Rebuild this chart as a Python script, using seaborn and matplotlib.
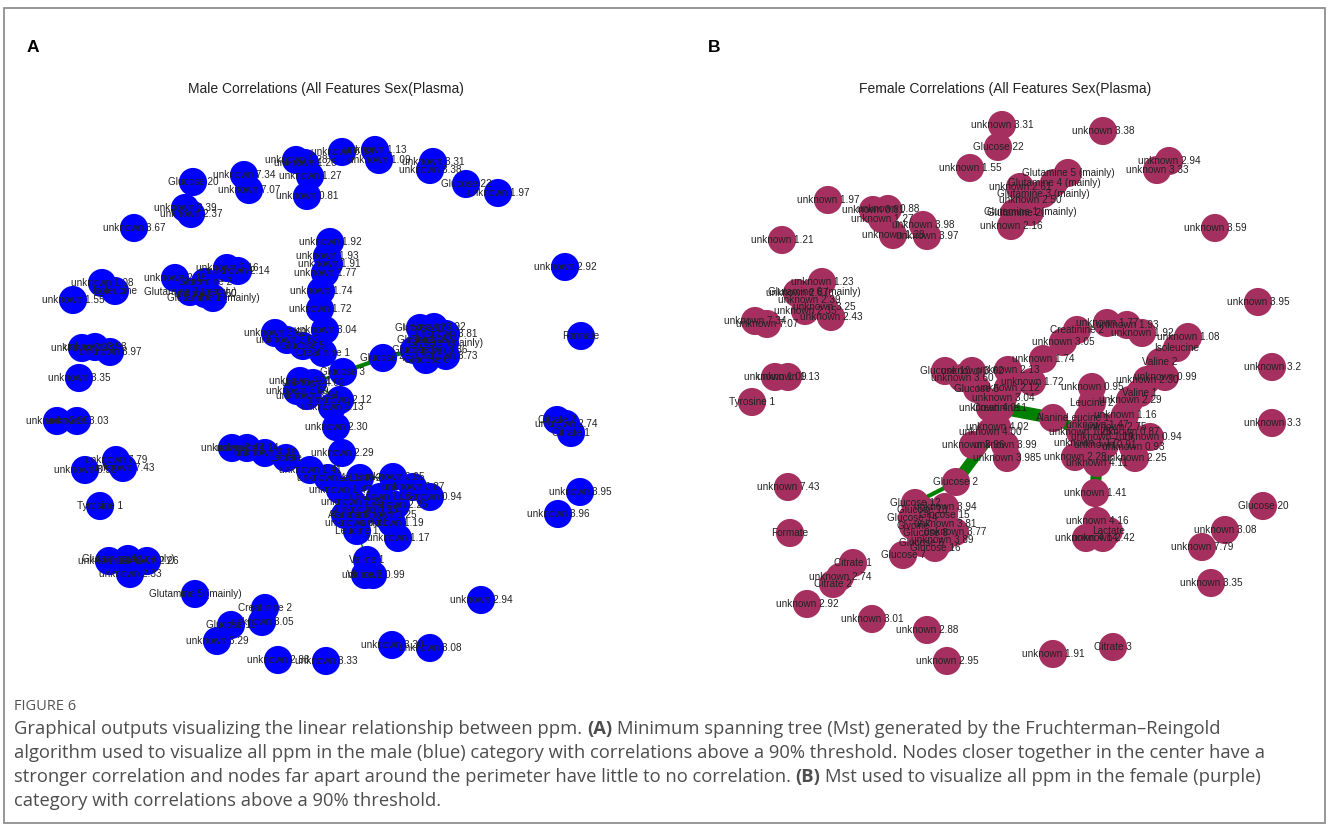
import matplotlib
matplotlib.use("Agg")
import matplotlib.pyplot as plt
import seaborn as sns
import pandas as pd
from matplotlib.collections import LineCollection
from matplotlib.patches import Rectangle

sns.set_theme(style="white")
plt.rcParams["font.family"] = ["Liberation Sans", "DejaVu Sans"]

W, H = 1328, 831

# ---------------- male network (layout coordinates) ----------------
male_labels = [
    # outer arc, top
    "Glucose 20", "unknown 7.34", "unknown 7.07", "unknown 2.39", "unknown 2.37", "unknown 3.67",
    "unknown 1.28", "unknown 1.26", "unknown 1.27", "unknown 0.81", "unknown 0.88", "unknown 1.13",
    "unknown 1.09", "unknown 3.31", "unknown 3.38", "Glucose 22", "unknown 1.97",
    # outer arc, right
    "unknown 2.92", "Formate", "Citrate 2", "unknown 2.74", "Citrate 1", "unknown 3.95",
    "unknown 3.96", "unknown 2.94", "unknown 3.30", "unknown 3.08",
    # outer arc, bottom and left
    "unknown 2.88", "unknown 3.33", "unknown 3.29", "Glucose 11", "Creatinine 2", "unknown 3.05",
    "Glutamine 5 (mainly)", "unknown 2.46", "Glutamine 4 (mainly)", "unknown 2.26", "unknown 2.33",
    "Tyrosine 1", "unknown 3.55", "unknown 7.79", "unknown 7.43", "unknown 2.99", "unknown 3.03",
    "unknown 3.35", "unknown 2.98", "unknown 3.98", "unknown 3.97", "unknown 1.55", "unknown 1.08",
    "Isoleucine", "unknown 2.18", "Glutamine 2", "Glutamine 3 (mainly)", "unknown 2.50",
    "Glutamine 1 (mainly)", "unknown 2.16", "unknown 2.14",
    # central chain
    "unknown 1.92", "unknown 1.93", "unknown 1.91", "unknown 1.77", "unknown 1.74", "unknown 1.72",
    "unknown 3.04", "unknown 3.60", "unknown 3.62", "Glucose 5", "Creatinine 1", "Glucose 3",
    "Glucose 4",
    # glucose cluster
    "Glucose 12", "unknown 3.92", "unknown 3.81", "Glucose 15", "Glycerol (mainly)", "Glucose 8",
    "unknown 3.86", "Glucose 6", "unknown 3.73", "Glucose 9",
    # lower branch
    "unknown 4.01", "unknown 4.02", "unknown 3.89", "unknown 3.94", "unknown 2.12", "unknown 2.13",
    "unknown 2.30", "unknown 2.29", "unknown 2.42", "unknown 4.14", "unknown 4.16", "Lactate",
    "unknown 1.41", "unknown 4.11", "Leucine 2", "unknown 0.95", "unknown 0.87", "unknown 0.94",
    "unknown 1.47", "unknown 2.28", "unknown 1.16", "unknown 2.25", "unknown 0.93", "Alanine",
    "unknown 1.25", "unknown 1.19", "unknown 0.91", "Leucine 1", "unknown 1.17", "Valine 1",
    "Valine 2", "unknown 0.99",
]
male_x = [
    193, 244, 249, 185, 191, 134,
    296, 305, 310, 307, 342, 375,
    379, 433, 430, 466, 498,
    565, 581, 557, 566, 571, 580,
    558, 481, 392, 430,
    278, 326, 217, 231, 265, 262,
    195, 109, 128, 147, 130,
    100, 85, 116, 123, 57, 77,
    79, 82, 95, 110, 73, 102,
    115, 175, 205, 190, 205,
    213, 227, 238,
    330, 327, 329, 325, 321, 320,
    325, 275, 287, 303, 323, 343,
    383,
    420, 434, 446, 422, 445, 414,
    436, 426, 446, 432,
    300, 313, 297, 307, 340, 332,
    336, 342, 232, 247, 265, 286,
    310, 328, 360, 393, 413, 430,
    340, 352, 380, 396, 366, 345,
    385, 392, 356, 357, 398, 367,
    365, 373,
]
male_y = [
    182, 175, 190, 208, 214, 228,
    160, 163, 176, 196, 152, 150,
    160, 162, 170, 184, 193,
    267, 336, 420, 424, 433, 492,
    514, 600, 645, 648,
    660, 661, 641, 625, 608, 622,
    594, 561, 559, 561, 574,
    506, 470, 460, 468, 421, 421,
    378, 348, 347, 352, 300, 283,
    291, 278, 282, 292, 294,
    298, 268, 271,
    242, 256, 264, 273, 291, 309,
    330, 333, 340, 346, 353, 372,
    358,
    328, 327, 334, 340, 343, 350,
    350, 360, 356, 340,
    381, 383, 391, 396, 400, 407,
    427, 453, 448, 448, 453, 458,
    470, 478, 478, 477, 487, 497,
    490, 502, 497, 505, 510, 515,
    515, 523, 523, 531, 538, 560,
    575, 575,
]
male_edges = [
    ("unknown 1.92", "unknown 1.93", 1.0), ("unknown 1.93", "unknown 1.91", 1.0),
    ("unknown 1.91", "unknown 1.77", 1.0), ("unknown 1.77", "unknown 1.74", 1.0),
    ("unknown 1.74", "unknown 1.72", 1.0), ("unknown 1.72", "unknown 3.04", 1.0),
    ("unknown 3.04", "Creatinine 1", 1.0), ("unknown 3.60", "unknown 3.62", 1.0),
    ("unknown 3.62", "Glucose 5", 1.0), ("Glucose 5", "Creatinine 1", 1.0),
    ("Creatinine 1", "Glucose 3", 2.0), ("Glucose 3", "Glucose 4", 3.0),
    ("Glucose 4", "Glucose 8", 3.0), ("Glucose 3", "unknown 4.02", 2.0),
    ("unknown 4.02", "unknown 4.01", 1.0), ("unknown 4.01", "unknown 3.89", 1.0),
    ("unknown 4.02", "unknown 2.12", 1.0), ("unknown 2.12", "unknown 2.13", 1.0),
    ("unknown 2.13", "unknown 2.30", 1.0), ("unknown 2.30", "unknown 2.29", 1.0),
    ("unknown 2.29", "unknown 4.11", 1.0), ("unknown 4.11", "unknown 1.41", 1.0),
    ("unknown 1.41", "Lactate", 1.0), ("Lactate", "unknown 4.16", 1.0),
    ("unknown 4.16", "unknown 4.14", 1.0), ("unknown 4.14", "unknown 2.42", 1.0),
    ("unknown 4.11", "Leucine 2", 1.0), ("Leucine 2", "unknown 0.95", 1.0),
    ("unknown 0.95", "unknown 0.87", 1.0), ("unknown 0.87", "unknown 0.94", 1.0),
    ("Leucine 1", "Valine 1", 1.0), ("Valine 1", "Valine 2", 1.0),
]

# ---------------- female network (layout coordinates) ----------------
female_labels = [
    # top
    "unknown 3.31", "Glucose 22", "unknown 1.55", "unknown 3.38", "unknown 2.94", "unknown 3.33",
    "unknown 3.59", "Glutamine 5 (mainly)", "Glutamine 4 (mainly)", "unknown 2.61",
    "Glutamine 3 (mainly)", "unknown 2.50", "Glutamine 1 (mainly)", "Glutamine 2", "unknown 2.16",
    "unknown 1.97", "unknown 1.21",
    # upper left groups
    "unknown 0.81", "unknown 0.88", "unknown 1.27", "unknown 1.28", "unknown 3.98", "unknown 3.97",
    "unknown 1.23", "unknown 2.87", "Glutamine 6 (mainly)", "unknown 2.39", "unknown 3.25",
    "unknown 2.35", "unknown 2.43", "unknown 7.34", "unknown 7.07",
    # lower left
    "unknown 1.09", "unknown 1.13", "Tyrosine 1", "unknown 7.43", "Formate", "Citrate 1",
    "unknown 2.74", "Citrate 2", "unknown 2.92", "unknown 3.01", "unknown 2.88", "unknown 2.95",
    "Glucose 7",
    # glucose cluster
    "Glucose 12", "unknown 3.94", "Glucose 13", "Glucose 15", "Glucose 14", "Glycine",
    "unknown 3.81", "unknown 3.77", "Glucose 8", "unknown 3.89", "Glucose 6", "Glucose 16",
    "Glucose 2",
    # central cluster
    "Glucose 10", "unknown 3.60", "unknown 3.62", "unknown 2.13", "Glucose 5", "unknown 2.12",
    "unknown 1.72", "unknown 3.04", "Creatinine 1", "unknown 4.01", "unknown 4.02", "unknown 4.00",
    "unknown 3.96", "unknown 3.99", "unknown 3.985", "unknown 1.74",
    # right chain
    "unknown 3.05", "Creatinine 2", "unknown 1.77", "unknown 1.93", "unknown 1.92", "unknown 1.08",
    "Isoleucine", "Valine 2", "unknown 0.99", "unknown 2.30", "Valine 1", "unknown 2.29",
    "unknown 0.95", "Leucine 2", "Alanine",
    # right cluster
    "Leucine 1", "unknown 1.16", "unknown 1.47", "unknown 2.75", "unknown 1.25", "unknown 1.19",
    "unknown 0.87", "unknown 0.94", "unknown 1.17", "unknown 0.91", "unknown 0.93", "unknown 2.28",
    "unknown 4.11", "unknown 2.25",
    # lower chain
    "unknown 1.41", "unknown 4.16", "Lactate", "unknown 4.14", "unknown 2.42",
    # right column
    "unknown 3.95", "unknown 3.2", "unknown 3.3", "Glucose 20", "unknown 3.08", "unknown 7.79",
    "unknown 3.35", "unknown 1.91", "Citrate 3",
]
female_x = [
    1002, 998, 970, 1103, 1169, 1157,
    1215, 1068, 1054, 1020,
    1043, 1030, 1030, 1014, 1011,
    828, 782,
    873, 888, 882, 893, 923, 927,
    822, 797, 814, 809, 824,
    805, 831, 755, 767,
    775, 788, 752, 788, 790, 853,
    840, 833, 807, 872, 927, 947,
    903,
    915, 945, 922, 944, 912, 913,
    945, 955, 925, 942, 922, 935,
    956,
    945, 962, 972, 1008, 977, 1008,
    1032, 1003, 1000, 990, 997, 990,
    973, 1005, 1007, 1043,
    1063, 1077, 1107, 1127, 1142, 1188,
    1177, 1160, 1165, 1147, 1140, 1130,
    1092, 1092, 1053,
    1088, 1125, 1097, 1115, 1080, 1102,
    1128, 1150, 1085, 1105, 1133, 1075,
    1097, 1135,
    1095, 1097, 1109, 1086, 1103,
    1258, 1272, 1272, 1263, 1225, 1202,
    1211, 1053, 1113,
]
female_y = [
    125, 147, 168, 131, 161, 170,
    228, 173, 183, 187,
    194, 200, 212, 213, 226,
    200, 240,
    210, 209, 219, 235, 225, 236,
    282, 293, 292, 300, 307,
    311, 317, 321, 324,
    377, 377, 402, 487, 533, 563,
    577, 584, 604, 619, 630, 661,
    555,
    503, 507, 510, 515, 518, 526,
    524, 532, 533, 540, 543, 548,
    482,
    371, 378, 371, 370, 389, 388,
    382, 398, 408, 408, 427, 432,
    445, 445, 458, 359,
    342, 330, 323, 325, 333, 337,
    348, 362, 377, 380, 393, 400,
    387, 403, 418,
    418, 415, 425, 427, 432, 437,
    432, 437, 443, 445, 447, 457,
    463, 458,
    493, 521, 531, 538, 538,
    302, 367, 423, 506, 530, 547,
    583, 654, 647,
]
female_edges = [
    ("Glucose 2", "unknown 4.02", 8.0), ("Glucose 2", "Glucose 12", 3.0),
    ("Creatinine 1", "Alanine", 9.0), ("Alanine", "unknown 1.25", 7.0),
    ("unknown 4.11", "unknown 1.41", 8.0), ("unknown 1.41", "unknown 4.16", 3.0),
    ("unknown 1.74", "unknown 1.72", 3.0), ("unknown 1.74", "unknown 3.05", 1.0),
    ("unknown 3.05", "Creatinine 2", 1.0), ("Creatinine 2", "unknown 1.77", 1.0),
    ("unknown 1.77", "unknown 1.93", 1.0), ("unknown 1.93", "unknown 1.92", 1.0),
    ("unknown 1.08", "Isoleucine", 1.0), ("Isoleucine", "Valine 2", 1.0),
    ("Valine 2", "unknown 0.99", 1.0), ("unknown 0.99", "unknown 2.30", 1.0),
    ("unknown 2.30", "Valine 1", 1.0), ("Valine 1", "unknown 2.29", 1.0),
    ("unknown 0.95", "Leucine 2", 1.0), ("Leucine 2", "Leucine 1", 1.0),
    ("unknown 4.16", "Lactate", 1.0), ("Lactate", "unknown 2.42", 1.0),
    ("Citrate 1", "unknown 2.74", 1.0), ("unknown 2.74", "Citrate 2", 1.0),
]

MALE_COLOR = "#0000FF"
FEMALE_COLOR = "#A5305F"
EDGE_COLOR = "#008000"
NODE_SIZE = 410


def draw_network(ax, labels, xs, ys, edges, color, box):
    x0, x1, y0, y1 = box
    df = pd.DataFrame({"label": labels, "x": xs, "y": ys})
    pos = {l: (x, y) for l, x, y in zip(labels, xs, ys)}
    segs = [[pos[a], pos[b]] for a, b, _ in edges]
    widths = [w for _, _, w in edges]
    ax.add_collection(LineCollection(segs, colors=EDGE_COLOR, linewidths=widths,
                                     capstyle="butt", zorder=1))
    sns.scatterplot(data=df, x="x", y="y", ax=ax, s=NODE_SIZE, color=color,
                    edgecolor="none", linewidth=0, legend=False, zorder=2)
    for l, x, y in zip(df["label"], df["x"], df["y"]):
        ax.text(x, y, l, ha="center", va="center", fontsize=7.2, color="#222222", zorder=3)
    ax.set_xlim(x0, x1)
    ax.set_ylim(y1, y0)
    ax.set_axis_off()


fig = plt.figure(figsize=(W / 100, H / 100), dpi=100)
fig.patch.set_facecolor("white")

male_box = (14, 660, 100, 690)
female_box = (690, 1320, 100, 690)
for box, labels, xs, ys, edges, color in [
    (male_box, male_labels, male_x, male_y, male_edges, MALE_COLOR),
    (female_box, female_labels, female_x, female_y, female_edges, FEMALE_COLOR),
]:
    x0, x1, y0, y1 = box
    ax = fig.add_axes([x0 / W, 1 - y1 / H, (x1 - x0) / W, (y1 - y0) / H])
    draw_network(ax, labels, xs, ys, edges, color, box)


def fx(px):
    return px / W


def fy(py):
    return 1 - py / H


# panel letters and titles
fig.text(fx(33), fy(48), "A", ha="center", va="center", fontsize=12.5, fontweight="bold", color="black")
fig.text(fx(714), fy(48), "B", ha="center", va="center", fontsize=12.5, fontweight="bold", color="black")
fig.text(fx(326), fy(89), "Male Correlations (All Features Sex(Plasma)", ha="center", va="center",
         fontsize=10, color="#222222")
fig.text(fx(1005), fy(89), "Female Correlations (All Features Sex(Plasma)", ha="center", va="center",
         fontsize=10, color="#222222")

# outer frame
fig.add_artist(Rectangle((fx(4), fy(823)), 1321 / W, 815 / H, transform=fig.transFigure,
                         fill=False, edgecolor="#8f8f8f", linewidth=1.3))

# caption
CAP_FONT = ["Open Sans", "DejaVu Sans"]
CAP_COLOR = "#4d4d4d"
fig.text(fx(14), fy(706), "FIGURE 6", ha="left", va="center", fontsize=10.5,
         family=CAP_FONT, color="#555555")

caption_lines = [
    [("Graphical outputs visualizing the linear relationship between ppm. ", False), ("(A)", True),
     (" Minimum spanning tree (Mst) generated by the Fruchterman\u2013Reingold", False)],
    [("algorithm used to visualize all ppm in the male (blue) category with correlations above a 90% "
      "threshold. Nodes closer together in the center have a", False)],
    [("stronger correlation and nodes far apart around the perimeter have little to no correlation. ", False),
     ("(B)", True), (" Mst used to visualize all ppm in the female (purple)", False)],
    [("category with correlations above a 90% threshold.", False)],
]
caption_y = [729, 753, 777, 801]
CAP_SIZE = 13.2

renderer = fig.canvas.get_renderer()
probe_a = fig.text(0, 0, "x x", fontsize=CAP_SIZE, family=CAP_FONT)
probe_b = fig.text(0, 0, "xx", fontsize=CAP_SIZE, family=CAP_FONT)
space_w = probe_a.get_window_extent(renderer).width - probe_b.get_window_extent(renderer).width
probe_a.remove()
probe_b.remove()

for runs, yy in zip(caption_lines, caption_y):
    xpos = 14.0
    for text, bold in runs:
        lead = len(text) - len(text.lstrip(" "))
        trail = len(text) - len(text.rstrip(" "))
        xpos += lead * space_w
        t = fig.text(fx(xpos), fy(yy), text.strip(" "), ha="left", va="center", fontsize=CAP_SIZE,
                     family=CAP_FONT, color=CAP_COLOR, fontweight="bold" if bold else "normal")
        xpos += t.get_window_extent(renderer).width + trail * space_w

fig.savefig("out.png", dpi=100, facecolor="white")
